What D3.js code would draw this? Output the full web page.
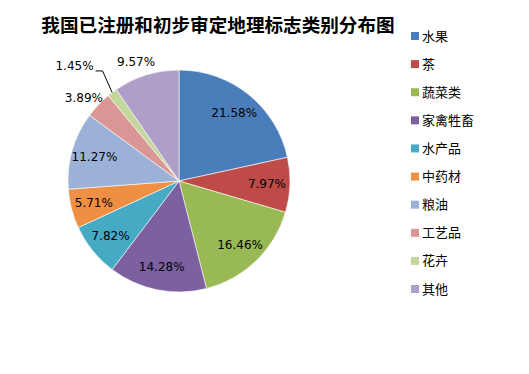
<!DOCTYPE html>
<html>
<head>
<meta charset="utf-8">
<script src="https://cdn.jsdelivr.net/npm/d3@7"></script>
<style>
  body { margin: 0; background: #fff; }
  svg { display: block; }
</style>
</head>
<body>
<div class="canvas"></div>
<script>
// data
const categories = ["水果", "茶", "蔬菜类", "家禽牲畜", "水产品", "中药材", "粮油", "工艺品", "花卉", "其他"]
const shares = [21.58, 7.97, 16.46, 14.28, 7.82, 5.71, 11.27, 3.89, 1.45, 9.57]
const colors = ["#4a7ebb", "#be4b48", "#98b954", "#7d60a0", "#46aac5", "#ee8f43", "#9bb1d8", "#d99694", "#c3d69b", "#ae9fc8"]
const title = "我国已注册和初步审定地理标志类别分布图"

const width = 529
const height = 374

const svg = d3.select(".canvas")
    .append("svg")
    .attr("width", width)
    .attr("height", height)

svg.append("text")
    .attr("x", 218)
    .attr("y", 32)
    .attr("text-anchor", "middle")
    .attr("font-family", "'Noto Sans CJK SC', sans-serif")
    .attr("font-weight", "bold")
    .attr("font-size", 18.6)
    .attr("fill", "#000")
    .text(title)

const cx = 179, cy = 181, radius = 111
const graph = svg.append("g")
    .attr("transform", `translate(${cx}, ${cy})`)

const data = categories.map((c, i) => ({ name: c, value: shares[i], color: colors[i] }))

const pie = d3.pie()
    .sort(null)
    .value(d => d.value)

const arc = d3.arc()
    .innerRadius(0)
    .outerRadius(radius)

const arcs = pie(data)

graph.selectAll("path")
    .data(arcs)
    .enter()
    .append("path")
    .attr("d", arc)
    .attr("fill", d => d.data.color)
    .attr("stroke", "#fff")
    .attr("stroke-width", 0.6)

// Excel-style "best fit": small slices in the upper left go outside
const outside = ["工艺品", "其他"]
const leader = ["花卉"]

const polar = (a, r) => [r * Math.sin(a), -r * Math.cos(a)]
const mid = d => (d.startAngle + d.endAngle) / 2
const fmt = v => v.toFixed(2) + "%"

const labels = graph.append("g")
    .attr("font-family", "'DejaVu Sans', sans-serif")
    .attr("font-size", 12)
    .attr("fill", "#000")

arcs.forEach(d => {
    let pos, anchor = "middle"
    if (leader.includes(d.data.name)) {
        const p0 = polar(mid(d), radius)
        const p1 = polar(mid(d) + 0.04, 134)
        const p2 = [p1[0] - 7, p1[1]]
        graph.append("polyline")
            .attr("points", [p0, p1, p2].map(p => p.join(",")).join(" "))
            .attr("fill", "none")
            .attr("stroke", "#000")
            .attr("stroke-width", 1)
        pos = [p2[0] - 2, p2[1] - 5]
        anchor = "end"
    } else if (outside.includes(d.data.name)) {
        pos = polar(mid(d) - 0.05, 125)
        pos[1] -= 2
    } else {
        pos = polar(mid(d), 88)
    }
    labels.append("text")
        .attr("x", pos[0])
        .attr("y", pos[1])
        .attr("dy", "0.35em")
        .attr("text-anchor", anchor)
        .text(fmt(d.data.value))
})

// legend
const legend = svg.append("g")
    .attr("transform", "translate(411, 36)")

const rowScale = d3.scalePoint()
    .domain(categories)
    .range([0, 253])

const rows = legend.selectAll("g")
    .data(data)
    .enter()
    .append("g")
    .attr("transform", d => `translate(0, ${rowScale(d.name)})`)

rows.append("rect")
    .attr("x", 0)
    .attr("y", -4)
    .attr("width", 8)
    .attr("height", 8)
    .attr("fill", d => d.color)

rows.append("text")
    .attr("x", 11)
    .attr("y", 0)
    .attr("dy", "0.35em")
    .attr("font-family", "'Noto Sans CJK SC', sans-serif")
    .attr("font-size", 13)
    .attr("fill", "#000")
    .text(d => d.name)
</script>
</body>
</html>
